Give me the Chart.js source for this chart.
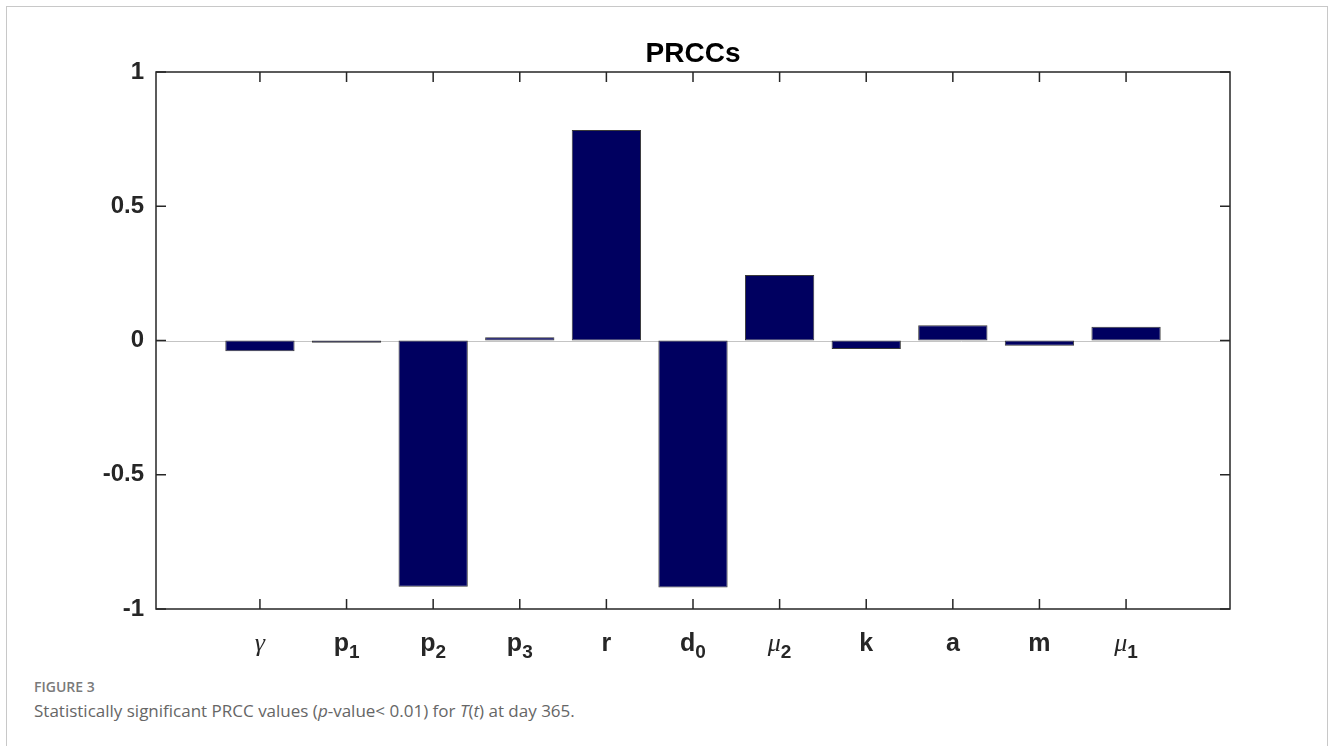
<!DOCTYPE html>
<html>
<head>
<meta charset="utf-8">
<script src="https://cdn.jsdelivr.net/npm/chart.js@4.4.1/dist/chart.umd.min.js"></script>
<style>
    body { margin: 0; background: #fff; width: 1330px; height: 746px; overflow: hidden; position: relative; }
    #frame { position: absolute; left: 6px; top: 6px; width: 1320px; height: 800px; border: 1px solid #c8c8c8; }
    #prcc { position: absolute; left: 0; top: 0; }
    .fig-label { position: absolute; left: 34px; top: 677px; font-family: "Open Sans", sans-serif; font-size: 14px; font-weight: 600; color: #7a7a7a; }
    .fig-caption { position: absolute; left: 34px; top: 699px; font-family: "Open Sans", sans-serif; font-size: 17px; font-weight: 400; color: #666; }
</style>
</head>
<body>
<div id="frame"></div>
<canvas id="prcc" width="1330" height="670"></canvas>
<div class="fig-label">FIGURE 3</div>
<div class="fig-caption">Statistically significant PRCC values (<i>p</i>-value&lt; 0.01) for <i>T</i>(<i>t</i>) at day 365.</div>

<script>
// parameters (name_subscript) and their PRCC values
const paramLabels = ['γ', 'p_1', 'p_2', 'p_3', 'r', 'd_0', 'μ_2', 'k', 'a', 'm', 'μ_1'];
const prccValues = [-0.04, -0.008, -0.917, 0.012, 0.784, -0.92, 0.244, -0.032, 0.057, -0.02, 0.051];
const yTicks = [-1, -0.5, 0, 0.5, 1];
const chartTitle = 'PRCCs';

const axisColor = '#262626';
const greek = ['γ', 'μ'];

// draw the box, inward tick marks, zero baseline, title and x labels (matlab look)
const axesBox = {
    id: 'axesBox',
    beforeDatasetsDraw(chart) {
        const { ctx, chartArea, scales } = chart;
        const y0 = Math.round(scales.y.getPixelForValue(0)) + 0.5;
        ctx.save();
        ctx.strokeStyle = '#c4c4c4';
        ctx.lineWidth = 1;
        ctx.beginPath();
        ctx.moveTo(chartArea.left, y0);
        ctx.lineTo(chartArea.right, y0);
        ctx.stroke();
        ctx.restore();
    },
    afterDatasetsDraw(chart) {
        const { ctx, chartArea, scales } = chart;
        const { left, right, top, bottom } = chartArea;
        const len = 10;
        ctx.save();
        ctx.strokeStyle = axisColor;
        ctx.lineWidth = 1.5;
        ctx.strokeRect(left, top, right - left, bottom - top);
        ctx.beginPath();
        yTicks.forEach(v => {
            const py = scales.y.getPixelForValue(v);
            ctx.moveTo(left, py); ctx.lineTo(left + len, py);
            ctx.moveTo(right, py); ctx.lineTo(right - len, py);
        });
        paramLabels.forEach((l, i) => {
            const px = scales.x.getPixelForValue(i + 1);
            ctx.moveTo(px, bottom); ctx.lineTo(px, bottom - len);
            ctx.moveTo(px, top); ctx.lineTo(px, top + len);
        });
        ctx.stroke();

        // title, centred over the axes
        ctx.fillStyle = '#000';
        ctx.font = 'bold 28px "Liberation Sans", Arial, sans-serif';
        ctx.textAlign = 'center';
        ctx.textBaseline = 'alphabetic';
        ctx.fillText(chartTitle, (left + right) / 2, 62);

        // x labels with subscripts
        paramLabels.forEach((l, i) => {
            const [base, sub] = l.split('_');
            const px = scales.x.getPixelForValue(i + 1);
            const baseFont = greek.includes(base) ? 'italic 26px "Liberation Serif", serif' : 'bold 25px "Liberation Sans", Arial, sans-serif';
            const subFont = 'bold 19px "Liberation Sans", Arial, sans-serif';
            ctx.font = baseFont;
            const wb = ctx.measureText(base).width;
            ctx.font = subFont;
            const ws = sub ? ctx.measureText(sub).width : 0;
            const x0 = px - (wb + ws) / 2;
            ctx.fillStyle = axisColor;
            ctx.textAlign = 'left';
            ctx.font = baseFont;
            ctx.fillText(base, x0, 651);
            if (sub) {
                ctx.font = subFont;
                ctx.fillText(sub, x0 + wb, 658);
            }
        });
        ctx.restore();
    }
};

const ctxPrcc = document.getElementById('prcc').getContext('2d');
new Chart(ctxPrcc, {
    type: 'bar',
    data: {
        datasets: [{
            data: prccValues.map((v, i) => ({ x: i + 1, y: v })),
            backgroundColor: '#000060',
            borderColor: '#3a3a3a',
            borderWidth: 1,
            borderSkipped: false,
            barPercentage: 0.8,
            categoryPercentage: 1
        }]
    },
    options: {
        responsive: false,
        animation: false,
        devicePixelRatio: 1,
        layout: { padding: { left: 0, right: 100, top: 72, bottom: 0 } },
        plugins: {
            legend: { display: false },
            tooltip: { enabled: false },
            title: { display: false }
        },
        scales: {
            x: {
                type: 'linear',
                offset: false,
                min: -0.2,
                max: 12.2,
                grid: { display: false, drawTicks: false },
                border: { display: false },
                ticks: { display: false },
                afterFit(scale) { scale.height = 61; }
            },
            y: {
                min: -1,
                max: 1,
                grid: { display: false, drawTicks: false },
                border: { display: false },
                afterBuildTicks(scale) { scale.ticks = yTicks.map(v => ({ value: v })); },
                ticks: {
                    padding: 12,
                    color: axisColor,
                    font: { family: '"Liberation Sans", Arial, sans-serif', size: 24, weight: 'bold' },
                    callback: v => String(v)
                },
                afterFit(scale) { scale.width = 156; }
            }
        }
    },
    plugins: [axesBox]
});
</script>
</body>
</html>
